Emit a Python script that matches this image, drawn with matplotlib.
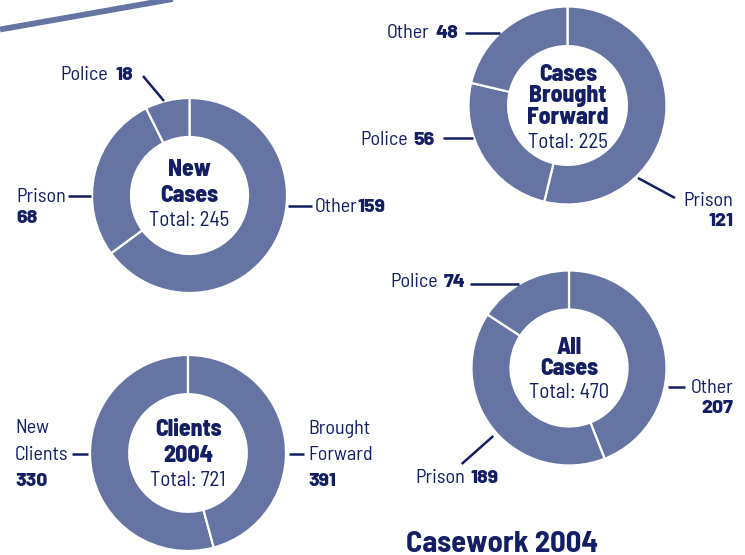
"""
Casework 2004: four donut charts (new cases, cases brought forward,
all cases, clients) laid out on one page, drawn in pixel coordinates.
"""

import matplotlib
matplotlib.use("Agg")
import matplotlib.pyplot as plt

# ---------------------------------------------------------------------------
# Data
# ---------------------------------------------------------------------------

NEW_LABELS = ["Other", "Prison", "Police"]
NEW_VALUES = [159, 68, 18]

CBF_LABELS = ["Prison", "Police", "Other"]
CBF_VALUES = [121, 56, 48]

ALL_LABELS = ["Other", "Prison", "Police"]
ALL_VALUES = [207, 189, 74]

CLIENT_LABELS = ["Brought Forward", "New Clients"]
CLIENT_VALUES = [391, 330]

TITLE = "Casework 2004"

# ---------------------------------------------------------------------------
# Style
# ---------------------------------------------------------------------------

W, H = 745, 555
RING = "#6674a4"
NAVY = "#141e64"
FONT = ["Barlow Semi Condensed", "DejaVu Sans"]
FONT_NUM = ["Barlow", "DejaVu Sans"]   # digits in the original are wide

REG   = dict(family=FONT, fontsize=14.5, color=NAVY, va="baseline")
NUM   = dict(family=FONT_NUM, fontsize=14, color=NAVY, va="baseline", fontweight=800)
HEAD  = dict(family=FONT, fontsize=17, color=NAVY, va="baseline", fontweight=800, ha="center")
TOTAL = dict(family=FONT, fontsize=15, color=NAVY, va="baseline", ha="center")


def iy(y):
    """image y (from top) -> axes y (from bottom)"""
    return H - y


def reset_axes(ax):
    # pie() changes limits/aspect; keep 1 data unit == 1 pixel
    ax.set_xlim(0, W)
    ax.set_ylim(0, H)
    ax.set_aspect("auto")
    ax.axis("off")


def donut(ax, values, cx, cy, r, counterclock=False):
    ax.pie(
        values,
        center=(cx, iy(cy)), radius=r,
        startangle=90, counterclock=counterclock,
        colors=[RING] * len(values),
        wedgeprops=dict(width=0.4 * r, edgecolor="white", linewidth=1.6),
    )
    reset_axes(ax)


def centre_text(ax, cx, lines, total_y, total):
    for text, y in lines:
        ax.text(cx, iy(y), text, **HEAD)
    ax.text(cx, iy(total_y), f"Total: {total}", **TOTAL)


def leader(ax, x0, y0, x1, y1):
    ax.plot([x0, x1], [iy(y0), iy(y1)], color=NAVY, lw=1.8, solid_capstyle="butt")


def inline_label(ax, rend, x, y, name, value, side="left", gap=6):
    """name + bold value on one line, anchored on the left or right edge"""
    if side == "left":
        t = ax.text(x, iy(y), name, ha="left", **REG)
        bb = t.get_window_extent(rend)
        ax.text(bb.x1 + gap, iy(y), str(value), ha="left", **NUM)
    else:
        t = ax.text(x, iy(y), str(value), ha="right", **NUM)
        bb = t.get_window_extent(rend)
        ax.text(bb.x0 - gap, iy(y), name, ha="right", **REG)


def stacked_label(ax, x, ys, name, value, ha="left"):
    """name lines, then bold value on the line below"""
    parts = name.split(" ") if len(ys) > 2 else [name]
    for part, y in zip(parts, ys[:-1]):
        ax.text(x, iy(y), part, ha=ha, **REG)
    ax.text(x, iy(ys[-1]), str(value), ha=ha, **NUM)


# ---------------------------------------------------------------------------
# Main
# ---------------------------------------------------------------------------

def main() -> None:
    fig = plt.figure(figsize=(W / 100, H / 100), dpi=100)
    ax = fig.add_axes([0, 0, 1, 1])
    reset_axes(ax)
    rend = fig.canvas.get_renderer()

    # decorative band at top left
    ax.plot([0, 200], [iy(29.5), iy(29.5 - 200 * 0.1765)], color=RING, lw=4.2,
            solid_capstyle="butt")

    # --- New Cases ---
    donut(ax, NEW_VALUES, 189.5, 195.5, 97.5)
    centre_text(ax, 189.5, [("New", 176.5), ("Cases", 201.5)], 226, sum(NEW_VALUES))
    new = dict(zip(NEW_LABELS, NEW_VALUES))
    inline_label(ax, rend, 60, 80.5, "Police", new["Police"], gap=8)
    leader(ax, 143, 76, 164, 101)
    stacked_label(ax, 16, [201.5, 223], "Prison", new["Prison"])
    leader(ax, 68, 196, 91, 196)
    inline_label(ax, rend, 314.5, 212.5, "Other", new["Other"], gap=0.5)
    leader(ax, 288, 206, 312, 206)

    # --- Cases Brought Forward ---
    donut(ax, CBF_VALUES, 567.5, 105.5, 99)
    centre_text(ax, 568, [("Cases", 81), ("Brought", 102), ("Forward", 124.5)], 148,
                sum(CBF_VALUES))
    cbf = dict(zip(CBF_LABELS, CBF_VALUES))
    inline_label(ax, rend, 458, 38.5, "Other", cbf["Other"], side="right")
    leader(ax, 465, 33.3, 500, 33.3)
    inline_label(ax, rend, 435, 145, "Police", cbf["Police"], side="right")
    leader(ax, 442.5, 137.7, 473, 137.7)
    stacked_label(ax, 733, [206.5, 226.5], "Prison", cbf["Prison"], ha="right")
    leader(ax, 638, 178, 675, 198)

    # --- All Cases ---
    donut(ax, ALL_VALUES, 569, 368, 97.5)
    centre_text(ax, 569, [("All", 354), ("Cases", 375)], 398, sum(ALL_VALUES))
    alc = dict(zip(ALL_LABELS, ALL_VALUES))
    inline_label(ax, rend, 465.5, 287.3, "Police", alc["Police"], side="right")
    leader(ax, 470, 284.3, 518.5, 284.3)
    stacked_label(ax, 733, [392.7, 413.3], "Other", alc["Other"], ha="right")
    leader(ax, 668, 386.7, 685, 386.7)
    inline_label(ax, rend, 415, 483.3, "Prison", alc["Prison"])
    leader(ax, 461.7, 464, 493.3, 436)

    # --- Clients 2004 (wedges run counter-clockwise, as in the original) ---
    donut(ax, CLIENT_VALUES, 188, 453, 98, counterclock=True)
    centre_text(ax, 188.3, [("Clients", 436), ("2004", 462.5)], 486.5, sum(CLIENT_VALUES))
    cli = dict(zip(CLIENT_LABELS, CLIENT_VALUES))
    stacked_label(ax, 15, [433.3, 460, 485.5], "New Clients", cli["New Clients"])
    leader(ax, 71.7, 454.3, 87.5, 454.3)
    stacked_label(ax, 308, [433.5, 460.5, 486.5], "Brought Forward",
                  cli["Brought Forward"])
    leader(ax, 288.5, 454.3, 304, 454.3)

    # --- page title ---
    ax.text(406, iy(551.5), TITLE, family=FONT, fontsize=22, fontweight="bold",
            color=NAVY, ha="left", va="baseline")

    fig.savefig("out.png", dpi=100, facecolor="white")
    plt.close(fig)


if __name__ == "__main__":
    main()
